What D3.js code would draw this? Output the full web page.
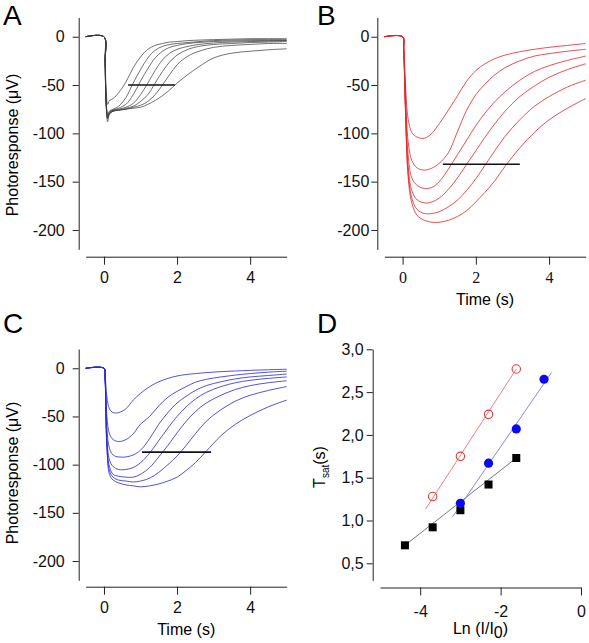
<!DOCTYPE html>
<html><head><meta charset="utf-8">
<script src="https://cdn.jsdelivr.net/npm/d3@7"></script>
<style>body{margin:0;background:#fff}svg{display:block}</style>
</head><body>
<svg id="c" width="589" height="643"></svg>
<script>
// ---------------- DATA ----------------
// Panel A: time (s) and photoresponse (µV) traces
const tA = [-0.5, 0, 0.03, 0.06, 0.1, 0.15, 0.25, 0.4, 0.6, 0.8, 1.0, 1.2, 1.4, 1.6, 1.8, 2.0, 2.3, 2.6, 3.0, 3.5, 4.0, 4.5, 5.0];
const A1 = [0,0,-20,-55,-70,-66,-64,-58,-47,-32,-21,-13,-9,-7,-5.5,-5,-4,-3.5,-3,-2.5,-2,-2,-2];
const A2 = [0,0,-25,-65,-80,-77,-75,-72,-63,-48,-34,-22,-14,-10,-8,-7,-6,-5,-4,-3.5,-3,-3,-3];
const A3 = [0,0,-25,-67,-82,-78,-76,-74,-70,-60,-46,-33,-22,-15,-11,-9,-7,-6,-5,-4.5,-4,-4,-4];
const A4 = [0,0,-26,-68,-84,-79,-76,-75,-73,-69,-60,-48,-35,-24,-17,-13,-10,-8,-6.5,-5.5,-5,-4.5,-4];
const A5 = [0,0,-26,-68,-84,-79,-77,-76,-74,-72,-67,-60,-48,-36,-26,-19,-13,-10,-8,-7,-6,-5.5,-5];
const A6 = [0,0,-27,-70,-85,-80,-77,-76,-75,-73,-71,-67,-60,-50,-39,-29,-20,-15,-11,-9,-8,-7,-7];
const A7 = [0,0,-28,-72,-88,-80,-77,-76,-75,-74,-73,-70,-66,-61,-55,-48,-39,-31,-22,-17,-15,-13.5,-12.5];
const barA = {t0: 0.66, t1: 1.94, v: -50};

// Panel B
const tB = [-0.5, 0, 0.03, 0.08, 0.15, 0.25, 0.4, 0.6, 0.8, 1.0, 1.25, 1.5, 1.75, 2.0, 2.25, 2.5, 2.8, 3.2, 3.6, 4.0, 4.5, 5.0];
const B1 = [0,0,-10,-50,-85,-99,-104,-105,-100,-90,-76,-61,-46,-35,-28,-23,-19,-15.5,-13,-11,-9,-7];
const B2 = [0,0,-12,-62,-108,-128,-136,-138,-136,-131,-120,-98,-76,-60,-49,-40,-32,-25,-20,-17.5,-15,-13];
const B3 = [0,0,-13,-70,-122,-146,-154,-157,-156,-150,-137,-122,-107,-92,-79,-68,-57,-45,-36,-30,-24.5,-20];
const B4 = [0,0,-14,-75,-133,-159,-169,-172,-171,-167,-158,-146,-132,-118,-104,-91,-77,-62,-51,-42,-34,-28];
const B5 = [0,0,-14,-78,-140,-167,-179,-183,-183,-181,-176,-169,-159,-147,-133,-119,-103,-86,-72,-62,-52,-45];
const B6 = [0,0,-15,-80,-145,-172,-185,-190,-192,-192,-190,-186,-180,-171,-161,-150,-134,-115,-99,-86,-74,-64];
const barB = {t0: 1.1, t1: 3.2, v: -132};

// Panel C
const tC = [-0.5, 0, 0.03, 0.08, 0.15, 0.25, 0.4, 0.6, 0.8, 1.0, 1.25, 1.5, 1.75, 2.0, 2.25, 2.5, 2.8, 3.2, 3.6, 4.0, 4.5, 5.0];
const C1 = [0,0,-6,-30,-42,-46,-46,-42,-33,-26,-19,-14,-10.5,-8,-6.5,-5.5,-4.5,-3.5,-2.8,-2.2,-1.5,-1];
const C2 = [0,0,-8,-50,-68,-74,-76,-74,-68,-58,-50,-39,-30,-24,-19,-14.5,-11.5,-9,-7,-5.5,-4,-3];
const C3 = [0,0,-9,-62,-83,-90,-92,-92,-90,-85,-73,-58,-46,-36,-29,-23,-18,-14,-11,-9,-7.5,-6];
const C4 = [0,0,-10,-72,-95,-102,-105,-105,-103,-98,-88,-75,-62,-50,-40,-32,-25,-19,-15,-12.5,-10.5,-9];
const C5 = [0,0,-10,-78,-102,-110,-112,-113,-113,-110,-103,-92,-80,-67,-55,-45,-36,-28,-22,-18,-15,-13];
const C6 = [0,0,-11,-80,-106,-113,-116,-117,-118,-117,-114,-108,-100,-91,-80,-68,-55,-43,-34,-28,-23,-19];
const C7 = [0,0,-11,-83,-110,-116,-119,-121,-122,-123,-122,-120,-117,-113,-106,-98,-86,-70,-58,-49,-40,-33];
const barC = {t0: 1.04, t1: 2.93, v: -87};

// Panel D: Ln(I/I0) vs Tsat (s)
const lnBlack = [-4.38, -3.69, -3.00, -2.30, -1.61];
const tsatBlack = [0.71, 0.92, 1.12, 1.42, 1.73];
const lnBlue = [-3.00, -2.30, -1.61, -0.92];
const tsatBlue = [1.20, 1.67, 2.07, 2.65];
const lnRed = [-3.69, -3.00, -2.30, -1.61];
const tsatRed = [1.28, 1.75, 2.24, 2.77];
const fitBlack = [[-4.38, 0.71], [-1.61, 1.73]];
const fitBlue = [[-3.20, 1.04], [-0.73, 2.73]];
const fitRed = [[-3.87, 1.13], [-1.61, 2.77]];

const yTicksMajor = [0, -50, -100, -150, -200];
const yTicksMinor = [-25, -75, -125, -175];
const xTicksMajor = [0, 2, 4];
const xTicksMinor = [1, 3, 5];
const dXMajor = [-4, -2, 0];
const dXMinor = [-5, -3, -1];
const dYMajor = [0.5, 1.0, 1.5, 2.0, 2.5, 3.0];
const dYMinor = [0.75, 1.25, 1.75, 2.25, 2.75];

// ---------------- DRAW ----------------
const svg = d3.select("#c");
const SANS = "'Liberation Sans', Arial, sans-serif";
const SERIF = "'Liberation Serif', 'Times New Roman', serif";
const AX = "#222";
const plain = d => String(d);

function axisStyle(g, font) {
  g.select(".domain").attr("stroke", AX).attr("stroke-width", 1);
  g.selectAll(".tick line").attr("stroke", AX).attr("stroke-width", 1);
  g.selectAll(".tick text").attr("fill", "#111").style("font-family", font || SANS).style("font-size", "16px");
}

function tracePanel(cfg) {
  const x = d3.scaleLinear().domain([-0.5, 5]).range(cfg.xr);
  const y = d3.scaleLinear().domain([20, -220]).range(cfg.yr);
  const gy = svg.append("g").attr("transform", `translate(${cfg.yAxisX},0)`);
  gy.call(d3.axisLeft(y).tickValues(yTicksMinor).tickSize(4).tickSizeOuter(0).tickFormat(""));
  gy.call(d3.axisLeft(y).tickValues(yTicksMajor).tickSize(6).tickSizeOuter(0).tickPadding(cfg.yPad).tickFormat(plain));
  axisStyle(gy);
  const gx = svg.append("g").attr("transform", `translate(0,${cfg.xAxisY})`);
  gx.call(d3.axisBottom(x).tickValues(xTicksMinor).tickSize(5).tickSizeOuter(0).tickFormat(""));
  gx.call(d3.axisBottom(x).tickValues(xTicksMajor).tickSize(8).tickSizeOuter(0).tickPadding(7).tickFormat(plain));
  axisStyle(gx, cfg.xFont);
  const line = d3.line().x(d => x(d[0])).y(d => y(d[1])).curve(d3.curveCatmullRom.alpha(0.5));
  cfg.series.forEach(s => {
    const pts = cfg.t.map((t, j) => [t, s[j]]);
    svg.append("path").attr("d", line(pts)).attr("fill", "none")
      .attr("stroke", cfg.color).attr("stroke-width", cfg.sw).attr("stroke-opacity", 0.9);
  });
  svg.append("line").attr("x1", x(cfg.bar.t0)).attr("x2", x(cfg.bar.t1))
    .attr("y1", y(cfg.bar.v)).attr("y2", y(cfg.bar.v))
    .attr("stroke", "#111").attr("stroke-width", 1.6);
  return {x, y};
}

const pA = tracePanel({xr: [85.7, 286.7], yr: [17.4, 249.3], yAxisX: 78.7, xAxisY: 256.7, yPad: 8,
  t: tA, series: [A1, A2, A3, A4, A5, A6, A7], color: "#3a3a3a", sw: 0.8, bar: barA});
const pB = tracePanel({xr: [384.3, 585.7], yr: [17.4, 249.3], yAxisX: 377.3, xAxisY: 256.7, yPad: 2,
  t: tB, series: [B1, B2, B3, B4, B5, B6], color: "#e3262a", sw: 0.9, bar: barB, xFont: SERIF});
const pC = tracePanel({xr: [85.7, 286.7], yr: [349.0, 580.3], yAxisX: 78.7, xAxisY: 586.7, yPad: 8,
  t: tC, series: [C1, C2, C3, C4, C5, C6, C7], color: "#2a2ad0", sw: 0.9, bar: barC});

// Panel D
const xD = d3.scaleLinear().domain([-5, 0]).range([380, 581]);
const yD = d3.scaleLinear().domain([0.3, 3.0]).range([580.4, 349.3]);
const comma = d => d3.format(".1f")(d).replace(".", ",");
const gyD = svg.append("g").attr("transform", "translate(372.7,0)");
gyD.call(d3.axisLeft(yD).tickValues(dYMinor).tickSize(4).tickSizeOuter(0).tickFormat(""));
gyD.call(d3.axisLeft(yD).tickValues(dYMajor).tickSize(6).tickSizeOuter(0).tickPadding(3).tickFormat(comma));
axisStyle(gyD);
const gxD = svg.append("g").attr("transform", "translate(0,587.5)");
gxD.call(d3.axisBottom(xD).tickValues(dXMinor).tickSize(5).tickSizeOuter(0).tickFormat(""));
gxD.call(d3.axisBottom(xD).tickValues(dXMajor).tickSize(8).tickSizeOuter(0).tickPadding(10).tickFormat(plain));
axisStyle(gxD);

const lD = d3.line().x(d => xD(d[0])).y(d => yD(d[1]));
svg.append("path").attr("d", lD(fitBlack)).attr("stroke", "#777").attr("stroke-width", 1).attr("fill", "none");
svg.append("path").attr("d", lD(fitBlue)).attr("stroke", "#8a8ae8").attr("stroke-width", 1).attr("fill", "none");
svg.append("path").attr("d", lD(fitRed)).attr("stroke", "#ec8080").attr("stroke-width", 1).attr("fill", "none");

svg.append("g").selectAll("rect").data(lnBlack.map((v, i) => [v, tsatBlack[i]])).join("rect")
  .attr("x", d => xD(d[0]) - 4).attr("y", d => yD(d[1]) - 4).attr("width", 8).attr("height", 8).attr("fill", "#000");
svg.append("g").selectAll("circle").data(lnBlue.map((v, i) => [v, tsatBlue[i]])).join("circle")
  .attr("cx", d => xD(d[0])).attr("cy", d => yD(d[1])).attr("r", 4.6).attr("fill", "#0a0af0");
svg.append("g").selectAll("circle").data(lnRed.map((v, i) => [v, tsatRed[i]])).join("circle")
  .attr("cx", d => xD(d[0])).attr("cy", d => yD(d[1])).attr("r", 4.2).attr("fill", "none")
  .attr("stroke", "#e03a3a").attr("stroke-width", 1.1);

// Labels
function txt(x, y, s, size, anchor, font, rot) {
  const t = svg.append("text").attr("x", x).attr("y", y).text(s)
    .style("font-family", font || SANS).style("font-size", size + "px")
    .attr("text-anchor", anchor || "start").attr("fill", "#000");
  if (rot) t.attr("transform", `rotate(${rot},${x},${y})`);
  return t;
}
txt(3, 25, "A", 28);
txt(317, 25, "B", 28);
txt(3, 333, "C", 28);
txt(317, 333, "D", 28);

txt(18, 145, "Photoresponse (\u03BCV)", 16, "middle", SANS, -90);
txt(18, 473, "Photoresponse (\u03BCV)", 16, "middle", SANS, -90);
txt(pB.x(2.25), 305, "Time (s)", 16, "middle");
txt(pC.x(2.25), 635, "Time (s)", 16, "middle");

const ln = svg.append("text").attr("x", xD(-2.5)).attr("y", 634).attr("text-anchor", "middle")
  .style("font-family", SANS).style("font-size", "16px").attr("fill", "#000");
ln.append("tspan").text("Ln (I/I");
ln.append("tspan").text("0").attr("dy", 4);
ln.append("tspan").text(")").attr("dy", -4);

const ts = svg.append("text").attr("x", 325).attr("y", 467).attr("text-anchor", "middle")
  .attr("transform", "rotate(-90,325,467)")
  .style("font-family", SANS).style("font-size", "16px").attr("fill", "#000");
ts.append("tspan").text("T");
ts.append("tspan").text("sat").attr("dy", 4).style("font-size", "10px");
ts.append("tspan").text("(s)").attr("dy", -4);
</script>
</body></html>
